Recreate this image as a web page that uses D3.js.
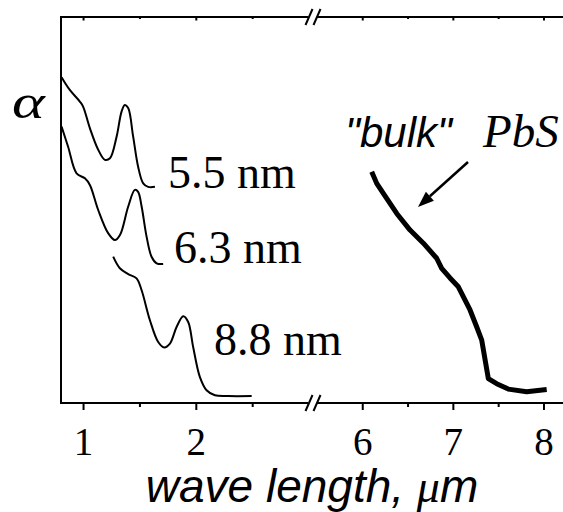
<!DOCTYPE html>
<html><head><meta charset="utf-8">
<script src="https://cdn.jsdelivr.net/npm/d3@7"></script>
<style>html,body{margin:0;padding:0;background:#fff;}svg{display:block;}</style>
</head><body>
<script>
// ---- data ----
const leftTicks = [1, 2];
const leftMinor = [1.5, 2.5];
const rightTicks = [6, 7, 8];
const rightMinor = [6.5, 7.5];

const x55 = [0.805,0.878,0.967,0.996,1.056,1.130,1.189,1.234,1.293,1.337,1.366,1.396,1.440,1.484,1.529,1.573,1.633];
const y55 = [84.4,81.1,78.1,76.8,71.2,65.6,63.0,63.4,69.0,75.5,77.2,76.4,69.0,61.2,56.9,56.0,56.0];

const x63 = [0.805,0.863,0.938,1.012,1.056,1.130,1.218,1.278,1.323,1.396,1.455,1.484,1.515,1.559,1.603,1.648,1.706];
const y63 = [71.6,66.4,59.5,58.2,56.5,50.0,44.0,42.2,43.5,50.9,55.2,54.7,50.9,43.1,37.9,36.2,36.0];

const x88 = [1.263,1.322,1.396,1.470,1.515,1.588,1.662,1.715,1.766,1.825,1.884,1.928,1.972,2.032,2.091,2.165,2.283,2.491];
const y88 = [37.9,34.9,33.4,32.3,29.2,21.5,15.8,14.4,15.4,19.7,22.5,21.0,14.5,6.7,3.3,2.0,1.8,1.8];

const xBulk = [6.099,6.154,6.227,6.375,6.522,6.669,6.816,6.871,6.963,7.055,7.184,7.258,7.313,7.386,7.478,7.606,7.809,8.030];
const yBulk = [59.9,56.9,54.3,49.1,44.8,41.4,37.5,34.9,32.4,30.1,24.1,19.7,16.3,6.3,5.0,3.6,2.9,3.5];

const sizeLabels = ["5.5 nm", "6.3 nm", "8.8 nm"];

// ---- layout ----
const W = 563, H = 512;
const L = 61, B = 403, T = 17, BR = 312, R = 563;
const xl = d3.scaleLinear().domain([0.8, 3.026]).range([L, BR]);
const xr = d3.scaleLinear().domain([5.44, 8.21]).range([BR, R]);
const y = d3.scaleLinear().domain([0, 100]).range([B, T]);

const serif = "'Liberation Serif','Times New Roman',serif";
const sans = "'Liberation Sans',Arial,sans-serif";

const svg = d3.select("body").append("svg").attr("width", W).attr("height", H);

// axes lines with break
const ax = svg.append("g").attr("stroke", "#000").attr("stroke-width", 2).attr("fill", "none");
ax.append("line").attr("x1", L).attr("x2", L).attr("y1", T).attr("y2", B);
[B, T].forEach(yy => {
  ax.append("line").attr("x1", L - 1).attr("x2", BR - 4).attr("y1", yy).attr("y2", yy);
  ax.append("line").attr("x1", BR + 5).attr("x2", R).attr("y1", yy).attr("y2", yy);
  [BR - 3, BR + 5].forEach(cx => {
    ax.append("line").attr("x1", cx - 3.5).attr("y1", yy + 8).attr("x2", cx + 3.5).attr("y2", yy - 8);
  });
});

// bottom axis ticks (outward), top ticks (inward)
const tickG = svg.append("g").attr("stroke", "#000").attr("stroke-width", 2);
function ticks(scale, vals, len) {
  vals.forEach(v => {
    const px = scale(v);
    tickG.append("line").attr("x1", px).attr("x2", px).attr("y1", B).attr("y2", B + len);
    tickG.append("line").attr("x1", px).attr("x2", px).attr("y1", T).attr("y2", T + len * 0.5);
  });
}
ticks(xl, leftTicks, 7); ticks(xl, leftMinor, 4);
ticks(xr, rightTicks, 7); ticks(xr, rightMinor, 4);

// tick labels
const tl = svg.append("g").attr("font-family", serif).attr("font-size", 39).attr("text-anchor", "middle");
leftTicks.forEach(v => tl.append("text").attr("x", xl(v)).attr("y", 455).text(v));
rightTicks.forEach(v => tl.append("text").attr("x", xr(v)).attr("y", 455).text(v));

// curves
const thin = d3.line().curve(d3.curveCatmullRom.alpha(0.5));
function draw(xs, ys, sx, w, curve) {
  const pts = xs.map((v, i) => [sx(v), y(ys[i])]);
  svg.append("path").attr("d", (curve || thin)(pts)).attr("fill", "none")
    .attr("stroke", "#000").attr("stroke-width", w).attr("stroke-linejoin", "round");
}
draw(x55, y55, xl, 2);
draw(x63, y63, xl, 2);
draw(x88, y88, xl, 2);
draw(xBulk, yBulk, xr, 5, d3.line());

// size labels
const lab = svg.append("g").attr("font-family", serif).attr("font-size", 46);
lab.append("text").attr("x", 168).attr("y", 188).text(sizeLabels[0]);
lab.append("text").attr("x", 174).attr("y", 263).text(sizeLabels[1]);
lab.append("text").attr("x", 214).attr("y", 355).text(sizeLabels[2]);

// bulk PbS label
svg.append("text").attr("x", 345).attr("y", 147).attr("font-family", sans).attr("font-style", "italic")
  .attr("font-size", 42).text('"bulk"');
svg.append("text").attr("x", 483).attr("y", 147).attr("font-family", serif).attr("font-style", "italic")
  .attr("font-size", 47).text("PbS");

// arrow
const ah = svg.append("g");
const x1 = 468, y1 = 162, x2 = 418, y2 = 207;
const ang = Math.atan2(y2 - y1, x2 - x1);
const hl = 16, hw = 6;
const bx = x2 - hl * Math.cos(ang), by = y2 - hl * Math.sin(ang);
ah.append("line").attr("x1", x1).attr("y1", y1).attr("x2", bx).attr("y2", by)
  .attr("stroke", "#000").attr("stroke-width", 2.5);
ah.append("path").attr("d", d3.line()([
  [x2, y2],
  [bx + hw * Math.sin(ang), by - hw * Math.cos(ang)],
  [bx - hw * Math.sin(ang), by + hw * Math.cos(ang)]
])).attr("fill", "#000");

// y label alpha
svg.append("text").attr("transform", "translate(12,118) scale(1.3,1)").attr("font-family", serif).attr("font-style", "italic")
  .attr("font-size", 48).text("α");

// x title
const xt = svg.append("text").attr("x", 312).attr("y", 502).attr("text-anchor", "middle")
  .attr("font-family", sans).attr("font-style", "italic").attr("font-size", 46);
xt.append("tspan").text("wave length, ");
xt.append("tspan").attr("font-family", serif).text("μ");
xt.append("tspan").text("m");
</script>
</body></html>
